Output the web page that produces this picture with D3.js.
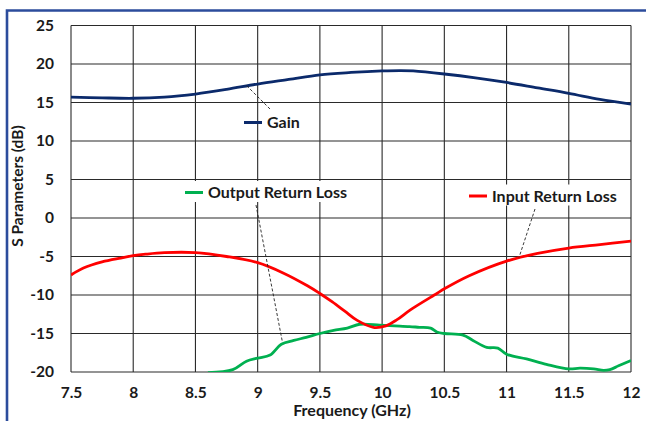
<!DOCTYPE html>
<html>
<head>
<meta charset="utf-8">
<script src="https://cdn.jsdelivr.net/npm/d3@7"></script>
<style>
  html, body { margin: 0; padding: 0; background: #fff; }
  svg text { font-family: Lato, "Open Sans", "DejaVu Sans", sans-serif; font-weight: 700; fill: #1a1a1a; }
</style>
</head>
<body>
<svg id="chart" width="646" height="421"></svg>
<script>
// Frequency sweep (GHz) and measured S-parameters (dB)
const gainFreq = [7.5, 7.75, 8, 8.25, 8.5, 8.75, 9, 9.25, 9.5, 9.75, 10, 10.15, 10.25, 10.5, 10.75, 11, 11.25, 11.5, 11.75, 12];
const gainDb   = [15.7, 15.6, 15.55, 15.7, 16.1, 16.7, 17.4, 18.0, 18.6, 18.9, 19.1, 19.15, 19.1, 18.7, 18.2, 17.6, 16.9, 16.2, 15.4, 14.8];

const inputFreq = [7.5, 7.6, 7.75, 7.9, 8, 8.1, 8.25, 8.5, 8.75, 9, 9.2, 9.4, 9.5, 9.6, 9.7, 9.8, 9.93, 10.03, 10.12, 10.23, 10.44, 10.5, 10.7, 11, 11.25, 11.5, 11.75, 12];
const inputDb   = [-7.4, -6.5, -5.7, -5.2, -4.9, -4.7, -4.5, -4.5, -5.0, -5.8, -7.1, -8.8, -9.8, -10.9, -12.1, -13.3, -14.2, -14.0, -13.2, -11.9, -9.8, -9.2, -7.5, -5.6, -4.6, -3.9, -3.45, -3.0];

const outputFreq = [8.6, 8.8, 8.91, 9, 9.1, 9.19, 9.29, 9.39, 9.5, 9.61, 9.72, 9.82, 9.98, 10.1, 10.22, 10.3, 10.39, 10.44, 10.5, 10.65, 10.73, 10.84, 10.93, 11, 11.16, 11.32, 11.5, 11.59, 11.7, 11.78, 11.83, 11.9, 12];
const outputDb   = [-20.1, -19.7, -18.6, -18.2, -17.8, -16.4, -15.9, -15.5, -15.0, -14.6, -14.3, -13.8, -13.9, -14.0, -14.1, -14.2, -14.3, -14.8, -15.0, -15.2, -15.9, -16.8, -16.9, -17.7, -18.3, -19.0, -19.6, -19.5, -19.6, -19.8, -19.7, -19.2, -18.5];

const xTicks = [7.5, 8, 8.5, 9, 9.5, 10, 10.5, 11, 11.5, 12];
const yTicks = [25, 20, 15, 10, 5, 0, -5, -10, -15, -20];

const seriesNames = ["Gain", "Output Return Loss", "Input Return Loss"];
const seriesColors = ["#0b2a6b", "#00b050", "#ff0000"];

const svg = d3.select("#chart");
const plot = { left: 71, right: 631, top: 25.5, bottom: 372 };

const x = d3.scaleLinear().domain([7.5, 12]).range([plot.left, plot.right]);
const y = d3.scaleLinear().domain([-20, 25]).range([plot.bottom, plot.top]);

// outer frame (left and top edges)
svg.append("path")
  .attr("d", `M7,421 L7,10.5 L646,10.5`)
  .attr("fill", "none").attr("stroke", "#2c4c9c").attr("stroke-width", 2.6);

// grid
const grid = svg.append("g");
grid.selectAll(".vg").data(xTicks).join("line")
  .attr("x1", d => x(d)).attr("x2", d => x(d))
  .attr("y1", plot.top).attr("y2", plot.bottom)
  .attr("stroke", "#2a2a2a").attr("stroke-width", 1.1);
grid.selectAll(".hg").data(yTicks).join("line")
  .attr("x1", plot.left).attr("x2", plot.right)
  .attr("y1", d => y(d)).attr("y2", d => y(d))
  .attr("stroke", "#2a2a2a").attr("stroke-width", 1.1);

// axes tick labels
const xAxis = d3.axisBottom(x).tickValues(xTicks).tickSize(0).tickPadding(15)
  .tickFormat(d => String(d));
svg.append("g").attr("transform", `translate(0,${plot.bottom})`).call(xAxis)
  .call(g => g.select(".domain").remove())
  .selectAll("text").attr("font-size", 15.5).attr("font-family", null).attr("fill", null);

const yAxis = d3.axisLeft(y).tickValues(yTicks).tickSize(0).tickPadding(17)
  .tickFormat(d => String(d));
svg.append("g").attr("transform", `translate(${plot.left},0)`).call(yAxis)
  .call(g => g.select(".domain").remove())
  .selectAll("text").attr("font-size", 15.5).attr("font-family", null).attr("fill", null);

// axis titles
svg.append("text").attr("x", 352).attr("y", 416)
  .attr("text-anchor", "middle").attr("font-size", 16).text("Frequency (GHz)");
svg.append("text").attr("transform", "translate(23,186) rotate(-90)")
  .attr("text-anchor", "middle").attr("font-size", 15.5).text("S Parameters (dB)");

// curves
svg.append("clipPath").attr("id", "plotclip").append("rect")
  .attr("x", plot.left).attr("y", plot.top)
  .attr("width", plot.right - plot.left).attr("height", plot.bottom - plot.top);

const line = d3.line().x(d => x(d[0])).y(d => y(d[1])).curve(d3.curveCatmullRom.alpha(0.5));
const seriesData = [
  d3.zip(gainFreq, gainDb),
  d3.zip(outputFreq, outputDb),
  d3.zip(inputFreq, inputDb)
];
const curves = svg.append("g").attr("clip-path", "url(#plotclip)");
curves.selectAll("path").data(seriesData).join("path")
  .attr("d", line)
  .attr("fill", "none")
  .attr("stroke", (d, i) => seriesColors[i])
  .attr("stroke-width", 2.8)
  .attr("stroke-linejoin", "round");

// callout labels with leader lines
const callouts = [
  { i: 0, lx: 244, ly: 122.5, box: false, lead: [[270, 109], [246, 85]] },
  { i: 1, lx: 185, ly: 192.5, box: true, lead: [[256, 205], [282.5, 342.5]] },
  { i: 2, lx: 469, ly: 196, box: true, lead: [[535, 209], [519, 257.5]] }
];
const cg = svg.append("g");
callouts.forEach(c => {
  const g = cg.append("g");
  const t = g.append("text").attr("x", c.lx + 23).attr("y", c.ly + 5.5)
    .attr("font-size", 16).text(seriesNames[c.i]);
  if (c.box) {
    const bb = t.node().getBBox();
    g.insert("rect", "text")
      .attr("x", c.lx - 4).attr("y", bb.y - 1)
      .attr("width", bb.x + bb.width - c.lx + 8).attr("height", bb.height + 2)
      .attr("fill", "#fff");
  }
  g.append("line").attr("x1", c.lx).attr("x2", c.lx + 18)
    .attr("y1", c.ly).attr("y2", c.ly)
    .attr("stroke", seriesColors[c.i]).attr("stroke-width", 3);
  cg.append("line")
    .attr("x1", c.lead[0][0]).attr("y1", c.lead[0][1])
    .attr("x2", c.lead[1][0]).attr("y2", c.lead[1][1])
    .attr("stroke", "#222").attr("stroke-width", 0.9).attr("stroke-dasharray", "3,2");
});
</script>
</body>
</html>
